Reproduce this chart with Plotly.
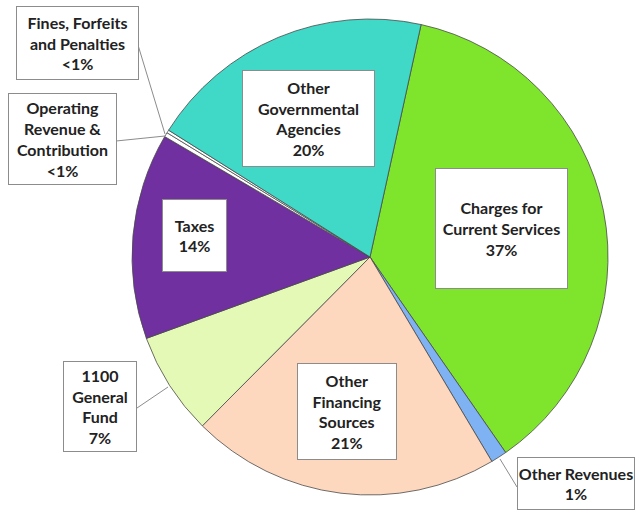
import plotly.graph_objects as go

W, H = 637, 512

# revenue categories, clockwise from the top
categories = ["Charges for Current Services", "Other Revenues", "Other Financing Sources",
              "1100 General Fund", "Taxes", "Operating Revenue & Contribution",
              "Fines, Forfeits and Penalties", "Other Governmental Agencies"]
shares = [36.9, 1.1, 21.0, 7.0, 14.0, 0.3, 0.2, 19.5]
pct_text = ["37%", "1%", "21%", "7%", "14%", "<1%", "<1%", "20%"]
box_text = ["Charges for<br>Current Services", "Other Revenues", "Other<br>Financing<br>Sources",
            "1100<br>General<br>Fund", "Taxes", "Operating<br>Revenue &<br>Contribution",
            "Fines, Forfeits<br>and Penalties", "Other<br>Governmental<br>Agencies"]

colors = ["#7fe52c", "#7fb2f2", "#fdd8bf", "#e4f9b6", "#7030a0", "#ffffff", "#ffffff", "#40d8c6"]

# label boxes: centre x, centre y, width, height (pixels)
boxes = [(501, 228, 133, 121), (576, 483, 118, 53), (347, 411, 100, 97), (100, 406, 74, 91),
         (194, 235, 65, 73), (62, 139, 109, 92), (77, 43, 123, 74), (308, 118, 133, 97)]
# leader lines for the labels outside the pie
leaders = {1: (517, 487, 500, 459), 3: (137, 408, 168, 387),
           5: (116, 141, 165, 136), 6: (138, 45, 165, 134)}

cx, cy, r = 370, 257, 238


def px(x, y):
    return x / W, 1 - y / H


x0, y1 = px(cx - r, cy - r)
x1, y0 = px(cx + r, cy + r)

fig = go.Figure(go.Pie(
    labels=categories, values=shares, sort=False, direction="clockwise", rotation=12.4,
    marker=dict(colors=colors, line=dict(color="#4a4a4a", width=0.8)),
    textinfo="none", showlegend=False,
    domain=dict(x=[x0, x1], y=[y0, y1]),
))

for i, (bx, by, bw, bh) in enumerate(boxes):
    x, y = px(bx, by)
    fig.add_annotation(x=x, y=y, xref="paper", yref="paper", showarrow=False,
                       xanchor="center", yanchor="middle",
                       text=f"<b>{box_text[i]}<br>{pct_text[i]}</b>",
                       width=bw - 2, height=bh - 2, borderpad=0,
                       bgcolor="white", bordercolor="#8c8c8c", borderwidth=1,
                       font=dict(family="Lato", size=16, color="#222222"))

for i, (ax0, ay0, ax1, ay1) in leaders.items():
    a0, b0 = px(ax0, ay0)
    a1, b1 = px(ax1, ay1)
    fig.add_shape(type="line", xref="paper", yref="paper", x0=a0, y0=b0, x1=a1, y1=b1,
                  line=dict(color="#8c8c8c", width=1))

fig.update_layout(width=W, height=H, margin=dict(l=0, r=0, t=0, b=0),
                  paper_bgcolor="white", plot_bgcolor="white")
fig.write_html("out.html", config={"displayModeBar": False},
               post_script="document.body.style.margin='0';")
